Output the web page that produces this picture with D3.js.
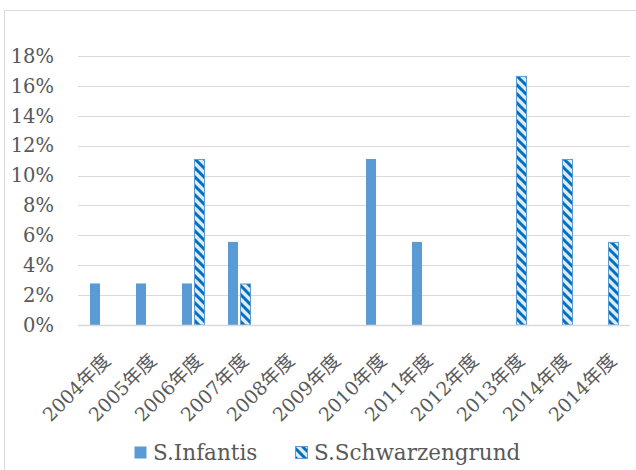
<!DOCTYPE html>
<html>
<head>
<meta charset="utf-8">
<script src="https://cdn.jsdelivr.net/npm/d3@7"></script>
<style>
  html, body { margin: 0; padding: 0; background: #fff; }
  svg { display: block; }
</style>
</head>
<body>
<svg id="chart" width="636" height="470"></svg>
<script>
// Fiscal-year categories (the last label appears twice in the source table)
const categories = ["2004年度", "2005年度", "2006年度", "2007年度", "2008年度", "2009年度",
                    "2010年度", "2011年度", "2012年度", "2013年度", "2014年度", "2014年度"];
// Share of isolates per year (fraction)
const infantis       = [0.0278, 0.0278, 0.0278, 0.0556, 0, 0, 0.1111, 0.0556, 0, 0, 0, 0];
const schwarzengrund = [0, 0, 0.1111, 0.0278, 0, 0, 0, 0, 0, 0.1667, 0.1111, 0.0556];
const seriesNames = ["S.Infantis", "S.Schwarzengrund"];
const yTicks = [0, 0.02, 0.04, 0.06, 0.08, 0.10, 0.12, 0.14, 0.16, 0.18];

const FONT = "'DejaVu Serif', 'Liberation Serif', 'Noto Sans CJK JP', serif";
const TEXT_COLOR = "#595959";

const svg = d3.select("#chart");

// Striped fill for the second series
const defs = svg.append("defs");
const pat = defs.append("pattern")
  .attr("id", "stripes")
  .attr("patternUnits", "userSpaceOnUse")
  .attr("width", 9).attr("height", 9);
pat.append("rect").attr("width", 9).attr("height", 9).attr("fill", "#deebf7");
pat.append("path")
  .attr("d", "M-2,-2 L11,11 M-2,7 L2,11 M7,-2 L11,2")
  .attr("stroke", "#0070c0").attr("stroke-width", 3);

// Chart frame
svg.append("rect")
  .attr("x", 4.5).attr("y", 10.5).attr("width", 640).attr("height", 470)
  .attr("fill", "none").attr("stroke", "#d9d9d9");

const margin = { left: 78, right: 6 };
const plotW = 636 - margin.left - margin.right;
const x = d3.scaleBand().domain(d3.range(categories.length)).range([margin.left, margin.left + plotW]);
const y = d3.scaleLinear().domain([0, 0.18]).range([325, 56]);

// Gridlines
svg.append("g")
  .selectAll("line")
  .data(yTicks.slice(1))
  .join("line")
  .attr("x1", margin.left).attr("x2", margin.left + plotW)
  .attr("y1", d => Math.round(y(d)) + 0.5).attr("y2", d => Math.round(y(d)) + 0.5)
  .attr("stroke", "#d9d9d9").attr("stroke-width", 1);

// Y axis labels
const yAxis = d3.axisLeft(y).tickValues(yTicks).tickFormat(d3.format(".0%")).tickSize(0).tickPadding(0);
const gy = svg.append("g").attr("transform", "translate(54,0)").call(yAxis)
  .attr("font-family", null).attr("font-size", null);
gy.select(".domain").remove();
gy.selectAll("text")
  .style("font-family", FONT).style("font-size", "19.5px").style("fill", TEXT_COLOR);

const barW = 11, gap = 2;
const center = i => x(i) + x.bandwidth() / 2;

// S.Infantis bars
svg.append("g")
  .selectAll("rect")
  .data(infantis.map((v, i) => ({ v, i })).filter(d => d.v > 0))
  .join("rect")
  .attr("x", d => center(d.i) - barW - gap / 2 + 1)
  .attr("y", d => y(d.v))
  .attr("width", barW - 1)
  .attr("height", d => y(0) - y(d.v))
  .attr("fill", "#5b9bd5");

// S.Schwarzengrund bars
svg.append("g")
  .selectAll("rect")
  .data(schwarzengrund.map((v, i) => ({ v, i })).filter(d => d.v > 0))
  .join("rect")
  .attr("x", d => center(d.i) + gap / 2 + 0.5)
  .attr("y", d => y(d.v) + 0.5)
  .attr("width", barW - 1)
  .attr("height", d => y(0) - y(d.v) - 0.5)
  .attr("fill", "url(#stripes)")
  .attr("stroke", "#5b9bd5").attr("stroke-width", 1);

// Baseline
svg.append("line")
  .attr("x1", margin.left).attr("x2", margin.left + plotW)
  .attr("y1", Math.round(y(0)) + 0.5).attr("y2", Math.round(y(0)) + 0.5)
  .attr("stroke", "#d9d9d9").attr("stroke-width", 1.5);

// Rotated category labels
svg.append("g")
  .selectAll("text")
  .data(categories)
  .join("text")
  .attr("transform", (d, i) => `translate(${center(i) + 6},${357}) rotate(-45)`)
  .attr("text-anchor", "end")
  .attr("dy", "0.35em")
  .style("font-family", FONT).style("font-size", "19px").style("fill", TEXT_COLOR)
  .text(d => d);

// Legend
const legend = svg.append("g");
const legendItems = [
  { name: seriesNames[0], fill: "#5b9bd5", x: 134 },
  { name: seriesNames[1], fill: "url(#stripes)", x: 295 }
];
legendItems.forEach((it, k) => {
  legend.append("rect")
    .attr("x", it.x + 0.5).attr("y", 446.5).attr("width", 12).attr("height", 12)
    .attr("fill", it.fill)
    .attr("stroke", k === 1 ? "#5b9bd5" : "none");
  legend.append("text")
    .attr("x", it.x + 19).attr("y", 460)
    .style("font-family", FONT).style("font-size", "21.5px").style("fill", TEXT_COLOR)
    .text(it.name);
});
</script>
</body>
</html>
